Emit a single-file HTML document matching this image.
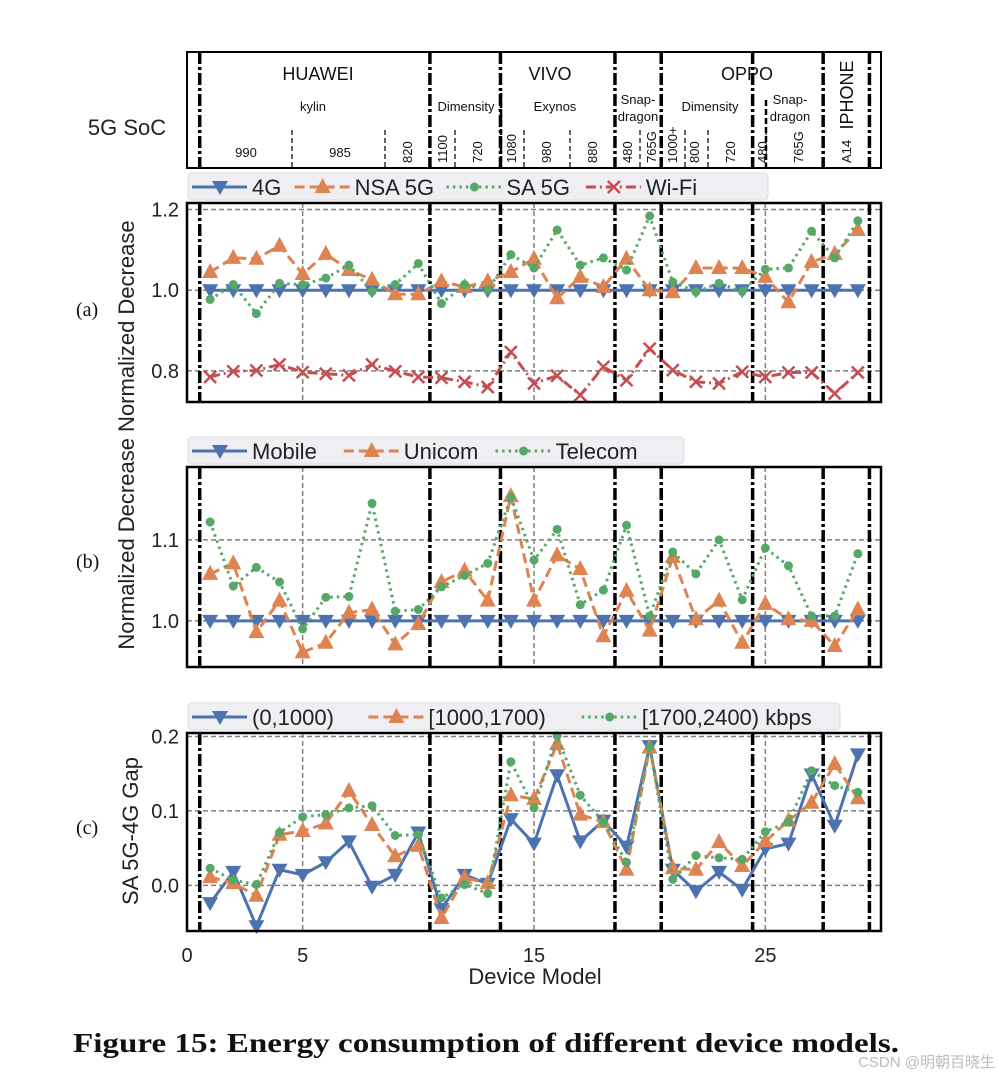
<!DOCTYPE html>
<html><head><meta charset="utf-8"><style>
html,body{margin:0;padding:0;background:#fff;}
svg{display:block;}
</style></head><body>
<svg id="fig" width="998" height="1080" xmlns="http://www.w3.org/2000/svg" font-family="Liberation Sans, sans-serif">
<g id="header">
<rect x="187" y="52" width="694" height="116" fill="#fff" stroke="#000" stroke-width="2"/>
<text x="127" y="135" font-size="22" text-anchor="middle" fill="#222">5G SoC</text>
<g font-size="18" text-anchor="middle" fill="#111" font-family="Liberation Sans Narrow, Liberation Sans, sans-serif">
<text x="318" y="80">HUAWEI</text>
<text x="550" y="80">VIVO</text>
<text x="747" y="80">OPPO</text>
<text transform="translate(853,95) rotate(-90)">IPHONE</text>
</g>
<g font-size="13" text-anchor="middle" fill="#111">
<text x="313" y="111">kylin</text>
<text x="466" y="111">Dimensity</text>
<text x="555" y="111">Exynos</text>
<text x="638" y="104">Snap-</text><text x="638" y="121">dragon</text>
<text x="710" y="111">Dimensity</text>
<text x="790" y="104">Snap-</text><text x="790" y="121">dragon</text>
<text x="246" y="157">990</text>
<text x="340" y="157">985</text>
</g>
<g id="rotlabels" font-size="13" fill="#111"></g>
<g id="hsep"></g>
</g>
<g id="plots"></g>
<g font-size="20" fill="#222" text-anchor="middle" id="xt"></g>
<text x="535" y="984" font-size="22" text-anchor="middle" fill="#222">Device Model</text>
<text transform="translate(134,435) rotate(-90)" font-size="22" text-anchor="middle" fill="#222">Normalized Decrease Normalized Decrease</text>
<text transform="translate(138,831) rotate(-90)" font-size="22" text-anchor="middle" fill="#222">SA 5G-4G Gap</text>
<g font-family="Liberation Serif, serif" font-size="20" fill="#111">
<text x="76" y="316">(a)</text>
<text x="76" y="568">(b)</text>
<text x="76" y="834">(c)</text>
</g>
<text x="73" y="1052" font-family="Liberation Serif, serif" font-weight="bold" font-size="27" fill="#111" textLength="826" lengthAdjust="spacingAndGlyphs">Figure 15: Energy consumption of different device models.</text>
<text x="995" y="1067" font-size="15" text-anchor="end" fill="#bbb" font-family="Liberation Sans, Noto Sans CJK SC, sans-serif">CSDN @明朝百晓生</text>
</svg>
<script>
const devices=[1,2,3,4,5,6,7,8,9,10,11,12,13,14,15,16,17,18,19,20,21,22,23,24,25,26,27,28,29];
const a4G=[1,1,1,1,1,1,1,1,1,1,1,1,1,1,1,1,1,1,1,1,1,1,1,1,1,1,1,1,1];
const aNSA=[1.045,1.08,1.078,1.11,1.04,1.09,1.05,1.026,0.99,0.99,1.022,1.008,1.022,1.045,1.078,0.98,1.033,1.008,1.078,1.0,0.995,1.055,1.055,1.055,1.033,0.97,1.07,1.09,1.149];
const aSA=[0.977,1.014,0.942,1.017,1.014,1.03,1.062,0.997,1.014,1.066,0.967,1.014,1.0,1.088,1.055,1.149,1.062,1.08,1.05,1.184,1.02,0.996,1.017,0.997,1.052,1.055,1.146,1.08,1.172];
const aWiFi=[0.785,0.799,0.801,0.816,0.797,0.793,0.789,0.816,0.799,0.785,0.783,0.773,0.76,0.847,0.769,0.788,0.74,0.81,0.777,0.855,0.802,0.773,0.769,0.798,0.785,0.796,0.796,0.744,0.796];
const bMobile=[1,1,1,1,1,1,1,1,1,1,1,1,1,1,1,1,1,1,1,1,1,1,1,1,1,1,1,1,1];
const bUnicom=[1.058,1.071,0.986,1.025,0.961,0.973,1.01,1.014,0.971,0.996,1.048,1.062,1.025,1.154,1.025,1.081,1.064,0.981,1.037,0.988,1.079,1.002,1.025,0.973,1.021,1.002,1.0,0.969,1.014];
const bTelecom=[1.122,1.043,1.066,1.048,0.99,1.029,1.03,1.145,1.012,1.014,1.042,1.056,1.071,1.153,1.075,1.113,1.02,1.038,1.118,1.006,1.085,1.058,1.1,1.026,1.09,1.068,1.006,1.006,1.083];
const cLow=[-0.024,0.018,-0.055,0.021,0.014,0.031,0.059,-0.002,0.014,0.071,-0.032,0.014,0.002,0.089,0.056,0.148,0.059,0.087,0.052,0.187,0.021,-0.008,0.018,-0.006,0.049,0.056,0.149,0.08,0.176];
const cMid=[0.011,0.003,-0.014,0.068,0.073,0.083,0.127,0.081,0.039,0.053,-0.044,0.01,0.003,0.121,0.116,0.19,0.095,0.085,0.021,0.185,0.023,0.021,0.058,0.026,0.059,0.087,0.111,0.163,0.117];
const cHigh=[0.023,0.007,0.001,0.071,0.092,0.095,0.104,0.107,0.067,0.068,-0.017,0.001,-0.011,0.166,0.104,0.201,0.121,0.085,0.031,0.186,0.008,0.04,0.037,0.035,0.072,0.085,0.154,0.134,0.125];
const groupBounds=[0.55,10.5,13.55,18.5,20.5,24.45,27.5,29.5];
const xTicks=[0,5,15,25];
const aTicks=["1.2","1.0","0.8"];
const bTicks=["1.1","1.0"];
const cTicks=["0.2","0.1","0.0"];

const NS="http://www.w3.org/2000/svg";
const svg=document.getElementById('fig');
function mk(tag,attrs,parent){const e=document.createElementNS(NS,tag);for(const k in attrs)e.setAttribute(k,attrs[k]);(parent||svg).appendChild(e);return e;}
const X0=187,X1=881;
const xs=v=>X0+(v/30)*(X1-X0);
const BLUE="#4c72b0",ORANGE="#dd8452",GREEN="#55a868",RED="#c44e52";

function marker(g,type,x,y,color){
  let e;
  if(type==='down'){e=mk('path',{d:`M${x-8},${y-6} L${x+8},${y-6} L${x},${y+8} Z`,fill:color},g);}
  else if(type==='up'){e=mk('path',{d:`M${x-8},${y+6} L${x+8},${y+6} L${x},${y-9} Z`,fill:color},g);}
  else if(type==='dot'){e=mk('circle',{cx:x,cy:y,r:4.5,fill:color},g);}
  else {e=mk('path',{d:`M${x-6},${y-6} L${x+6},${y+6} M${x-6},${y+6} L${x+6},${y-6}`,stroke:color,'stroke-width':2.5,fill:'none'},g);}
  return e;
}
const styles={solid:'',dash:'10,5',dot:'2.5,4',dashdot:'10,4,2,4'};

function panel(name,top,bot,ymin,ymax,ticks,series,legend,legendW){
  const g=mk('g',{});
  
  
  const ys=v=>bot-(v-ymin)/(ymax-ymin)*(bot-top);
  mk('rect',{x:X0,y:top,width:X1-X0,height:bot-top,fill:'#fff'},g);
  ticks.forEach(t=>{
    const y=ys(parseFloat(t));
    const l=mk('line',{x1:X0,x2:X1,y1:y,y2:y,stroke:'#808080','stroke-width':1.5,'stroke-dasharray':'5,3'},g);
    
    
    const tx=mk('text',{x:X0-8,y:y+7,'font-size':20,'text-anchor':'end',fill:'#222'},g);
    tx.textContent=t;
    
    
  });
  [5,15,25].forEach(v=>{mk('line',{x1:xs(v),x2:xs(v),y1:top,y2:bot,stroke:'#808080','stroke-width':1.5,'stroke-dasharray':'5,3'},g);});
  groupBounds.forEach(v=>{
    const l=mk('line',{x1:xs(v),x2:xs(v),y1:top,y2:bot,stroke:'#000','stroke-width':3.5,'stroke-dasharray':'12,3,3,3'},g);
    
    
  });
  series.forEach(s=>{
    const sg=mk('g',{},g);
    
    
    const pts=devices.map((d,i)=>xs(d)+','+ys(s.data[i])).join(' ');
    mk('polyline',{points:pts,fill:'none',stroke:s.color,'stroke-width':3,'stroke-dasharray':styles[s.ls]},sg);
    devices.forEach((d,i)=>{
      const m=marker(sg,s.mk,xs(d),ys(s.data[i]),s.color);
      
      
    });
  });
  mk('rect',{x:X0,y:top,width:X1-X0,height:bot-top,fill:'none',stroke:'#000','stroke-width':2.5},g);
  const lg=mk('g',{},g);
  
  
  const ly=top-30;
  mk('rect',{x:X0+1,y:ly,width:legendW,height:27,rx:4,fill:'#eeeef3',stroke:'#ddd'},lg);
  let lx=X0+5;
  series.forEach((s,i)=>{
    const e=mk('g',{},lg);
    
    
    mk('line',{x1:lx,x2:lx+55,y1:ly+14,y2:ly+14,stroke:s.color,'stroke-width':3,'stroke-dasharray':styles[s.ls]},e);
    marker(e,s.mk,lx+28,ly+14,s.color);
    const t=mk('text',{x:lx+60,y:ly+22,'font-size':22,fill:'#222'},e);
    t.textContent=legend[i];
    lx+=60+legend[i].length*12.3+18;
  });
}
panel('panel-a-network',203,402,0.723,1.216,aTicks,[
 {name:'series-4g',data:a4G,color:BLUE,ls:'solid',mk:'down'},
 {name:'series-nsa-5g',data:aNSA,color:ORANGE,ls:'dash',mk:'up'},
 {name:'series-sa-5g',data:aSA,color:GREEN,ls:'dot',mk:'dot'},
 {name:'series-wifi',data:aWiFi,color:RED,ls:'dashdot',mk:'x'}],['4G','NSA 5G','SA 5G','Wi-Fi'],580);
panel('panel-b-carrier',467,667,0.943,1.19,bTicks,[
 {name:'series-mobile',data:bMobile,color:BLUE,ls:'solid',mk:'down'},
 {name:'series-unicom',data:bUnicom,color:ORANGE,ls:'dash',mk:'up'},
 {name:'series-telecom',data:bTelecom,color:GREEN,ls:'dot',mk:'dot'}],['Mobile','Unicom','Telecom'],496);
panel('panel-c-bandwidth',733,931,-0.0614,0.2047,cTicks,[
 {name:'series-0-1000',data:cLow,color:BLUE,ls:'solid',mk:'down'},
 {name:'series-1000-1700',data:cMid,color:ORANGE,ls:'dash',mk:'up'},
 {name:'series-1700-2400',data:cHigh,color:GREEN,ls:'dot',mk:'dot'}],['(0,1000)','[1000,1700)','[1700,2400) kbps'],652);

const xt=document.getElementById('xt');
xTicks.forEach(v=>{
  const t=mk('text',{x:xs(v),y:962},xt);t.textContent=v;
  
  
});
const hs=document.getElementById('hsep');
groupBounds.forEach(v=>{mk('line',{x1:xs(v),x2:xs(v),y1:52,y2:168,stroke:'#000','stroke-width':3.5,'stroke-dasharray':'12,3,3,3'},hs);});
[[292,130],[385,130],[455,130],[524,130],[570,130],[640,130],[685,130],[708,130],[766,130]].forEach(p=>{
  mk('line',{x1:p[0],x2:p[0],y1:p[1],y2:168,stroke:'#000','stroke-width':1.2,'stroke-dasharray':'5,3'},hs);});
[[501,93],[766,100]].forEach(p=>{mk('line',{x1:p[0],x2:p[0],y1:p[1],y2:168,stroke:'#000','stroke-width':2.5,'stroke-dasharray':'6,3'},hs);});
const rl=document.getElementById('rotlabels');
[['820',412],['1100',447],['720',482],['1080',516],['980',551],['880',597],['480',632],['765G',656],['1000+',677],['800',699],['720',735],['480',767],['765G',803],['A14',851]].forEach(p=>{
  const t=mk('text',{transform:`translate(${p[1]},163) rotate(-90)`},rl);t.textContent=p[0];
  
  
});
</script>
</body></html>
